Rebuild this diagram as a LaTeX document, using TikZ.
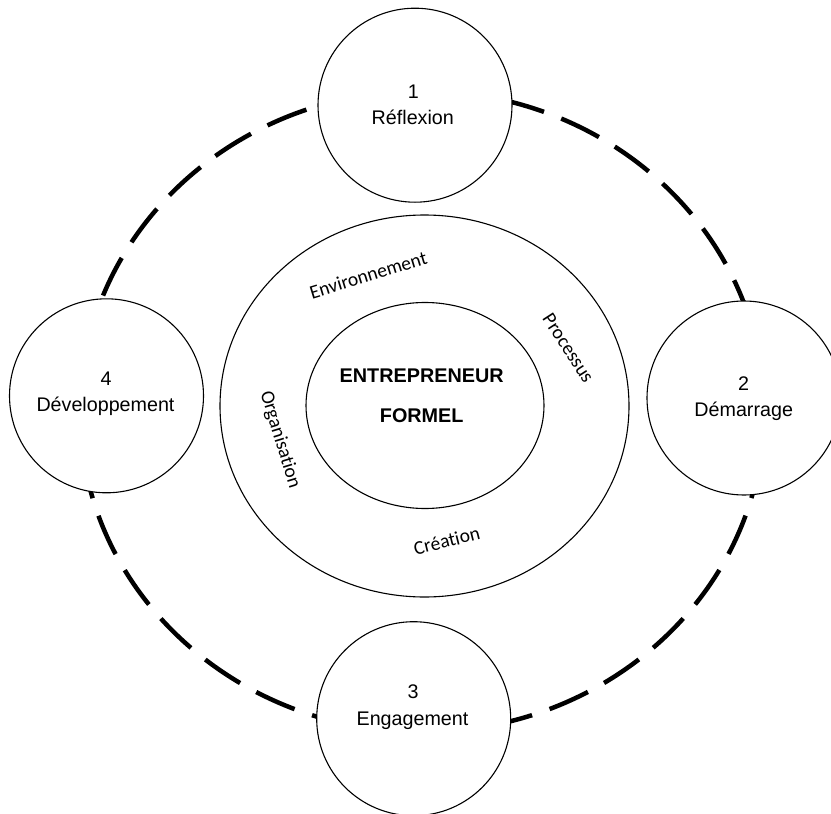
\documentclass[tikz,border=0pt]{standalone}
\usepackage{fontspec}
\setmainfont{Liberation Sans}
\newfontfamily\ringfont[Ligatures=NoCommon]{Carlito}
\usetikzlibrary{shapes.geometric}
\begin{document}
\begin{tikzpicture}[x=1pt,y=-1pt,
  stage/.style={circle,draw,line width=1.1pt,fill=white,minimum size=194pt,inner sep=0pt},
  oval/.style={ellipse,draw,line width=1.1pt,fill=white,inner sep=0pt},
  num/.style={anchor=base,font=\fontsize{19.7}{24}\selectfont,inner sep=0pt},
  ringlab/.style={font=\ringfont\fontsize{19.5}{23}\selectfont,inner sep=0pt},
  core/.style={anchor=base,font=\bfseries\fontsize{19.8}{24}\selectfont,inner sep=0pt},
  dashring/.style={line width=4.5pt,dash pattern=on 42pt off 18.5pt,dash phase=2pt}
]
\useasboundingbox (0,0) rectangle (831,814);
\fill[white] (0,0) rectangle (831,814);
% dashed cycle
\coordinate (ec) at (422,411.5);
\draw[dashring] (ec) ++(-342,0) arc[start angle=180, end angle=540, x radius=342, y radius=320.6];
% stage circles
\node[stage] (c1) at (415,105.2) {};
\node[stage] (c2) at (744,398) {};
\node[stage] (c3) at (413.7,718.7) {};
\node[stage] (c4) at (106.5,395.8) {};
% central ovals
\node[oval,minimum width=409pt,minimum height=382pt] (mid) at (424.5,406) {};
\node[oval,minimum width=238pt,minimum height=206pt] (core) at (425,405.5) {};
% stage labels
\node[num] (n1) at (413.3,98.3) {1};
\node[num] (w1) at (412.8,124) {Réflexion};
\node[num] (n2) at (743.7,390.7) {2};
\node[num] (w2) at (743.7,416.7) {Démarrage};
\node[num] (n3) at (413,698.7) {3};
\node[num] (w3) at (412.5,725) {Engagement};
\node[num] (n4) at (106,385) {4};
\node[num] (w4) at (105.5,411.7) {Développement};
% core text
\node[core] (e1) at (421.7,382.7) {ENTREPRENEUR};
\node[core] (e2) at (421.7,422.3) {FORMEL};
% ring labels
\node[ringlab,rotate=17] (env) at (368.3,275) {Environnement};
\node[ringlab,rotate=-57] (pro) at (568.3,348.3) {Processus};
\node[ringlab,rotate=-73] (org) at (280,440) {Organisation};
\node[ringlab,rotate=14] (cre) at (446.7,540.7) {Création};
\end{tikzpicture}
\end{document}
